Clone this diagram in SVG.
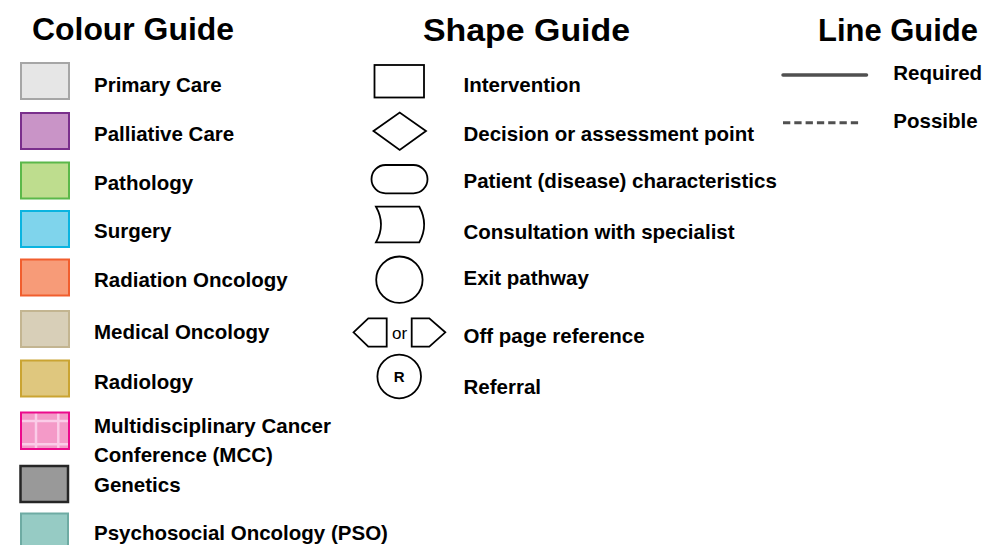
<svg xmlns="http://www.w3.org/2000/svg" width="987" height="545" viewBox="0 0 987 545">
<style>
  text { font-family: "Liberation Sans", Arial, sans-serif; fill: #000; }
  .title { font-size: 32px; font-weight: bold; }
  .lbl { font-size: 20.5px; font-weight: bold; }
  .sw { stroke-width: 2; }
  .shape { fill: #fff; stroke: #000; stroke-width: 1.8; }
</style>
<rect width="987" height="545" fill="#fff"/>

<text class="title" x="32" y="40" textLength="202" lengthAdjust="spacingAndGlyphs">Colour Guide</text>
<text class="title" x="423" y="40.5" textLength="207" lengthAdjust="spacingAndGlyphs">Shape Guide</text>
<text class="title" x="818" y="40.5" textLength="160" lengthAdjust="spacingAndGlyphs">Line Guide</text>

<g id="colour-primary"><rect class="sw" x="21" y="63" width="48" height="36" fill="#e6e6e6" stroke="#a6a6a6"/><text class="lbl" x="94" y="91.7">Primary Care</text></g>
<g id="colour-palliative"><rect class="sw" x="21" y="113" width="48" height="36" fill="#c994c7" stroke="#7a2f8c"/><text class="lbl" x="94" y="140.7">Palliative Care</text></g>
<g id="colour-pathology"><rect class="sw" x="21" y="162.5" width="48" height="36" fill="#bedd8e" stroke="#5bb84a"/><text class="lbl" x="94" y="190">Pathology</text></g>
<g id="colour-surgery"><rect class="sw" x="21" y="211" width="48" height="36" fill="#7fd4ec" stroke="#0ab4e0"/><text class="lbl" x="94" y="238">Surgery</text></g>
<g id="colour-radiation"><rect class="sw" x="21" y="259.5" width="48" height="36" fill="#f79b78" stroke="#f15e2e"/><text class="lbl" x="94" y="286.7">Radiation Oncology</text></g>
<g id="colour-medical"><rect class="sw" x="21" y="311" width="48" height="36" fill="#d8cfb8" stroke="#c3b591"/><text class="lbl" x="94" y="339">Medical Oncology</text></g>
<g id="colour-radiology"><rect class="sw" x="21" y="360.5" width="48" height="36" fill="#dfc77e" stroke="#caa432"/><text class="lbl" x="94" y="389">Radiology</text></g>
<g id="colour-mcc">
  <rect x="21" y="412.5" width="48" height="36.5" fill="#f49ac8"/>
  <g stroke="#fcd2ec" stroke-width="2.5" opacity="0.9">
    <line x1="36" y1="413" x2="36" y2="449"/>
    <line x1="58.3" y1="413" x2="58.3" y2="449"/>
    <line x1="21" y1="421" x2="69" y2="421"/>
    <line x1="21" y1="444.3" x2="69" y2="444.3"/>
  </g>
  <rect class="sw" x="21" y="412.5" width="48" height="36.5" fill="none" stroke="#ec0a8c"/>
  <text class="lbl" x="94" y="432.7">Multidisciplinary Cancer</text>
  <text class="lbl" x="94" y="461.7">Conference (MCC)</text>
</g>
<g id="colour-genetics"><rect x="20.5" y="466" width="47.5" height="36" fill="#999999" stroke="#262626" stroke-width="2.5"/><text class="lbl" x="94" y="491.7">Genetics</text></g>
<g id="colour-pso"><rect class="sw" x="21" y="513.5" width="47" height="40" fill="#96cbc4" stroke="#6eaba3"/><text class="lbl" x="94" y="540">Psychosocial Oncology (PSO)</text></g>

<g id="shape-intervention"><rect class="shape" x="374.5" y="65" width="49.5" height="32.5"/><text class="lbl" x="463.5" y="92.3">Intervention</text></g>
<g id="shape-decision"><polygon class="shape" points="373.5,131 399.7,112.5 426,131 399.7,150"/><text class="lbl" x="463.5" y="141">Decision or assessment point</text></g>
<g id="shape-patient"><rect class="shape" x="371.5" y="165" width="56" height="28.3" rx="14" ry="14"/><text class="lbl" x="463.5" y="187.5">Patient (disease) characteristics</text></g>
<g id="shape-consultation"><path class="shape" d="M376,206.7 L419.3,206.7 Q429,224.5 419.3,242.3 L376,242.3 Q386,224.5 376,206.7 Z"/><text class="lbl" x="463.5" y="239">Consultation with specialist</text></g>
<g id="shape-exit"><circle class="shape" cx="399.4" cy="279.7" r="23.2"/><text class="lbl" x="463.5" y="285">Exit pathway</text></g>
<g id="shape-offpage">
  <polygon class="shape" points="353.5,332.3 368.3,318.3 386.7,318.3 386.7,346.7 368.3,346.7"/>
  <text x="392" y="339.3" style="font-size:17px">or</text>
  <polygon class="shape" points="411.7,318.3 429.3,318.3 445.3,332.3 429.3,346.7 411.7,346.7"/>
  <text class="lbl" x="463.5" y="342.7">Off page reference</text>
</g>
<g id="shape-referral"><circle class="shape" cx="399.2" cy="376.5" r="21.8"/><text x="399.2" y="382" text-anchor="middle" style="font-size:15px;font-weight:bold">R</text><text class="lbl" x="463.5" y="394">Referral</text></g>

<g id="connectors">
  <g id="line-required"><line x1="783" y1="75" x2="866.5" y2="75" stroke="#505050" stroke-width="3.5" stroke-linecap="round"/><text class="lbl" x="893.3" y="80">Required</text></g>
  <g id="line-possible"><line x1="783" y1="122.7" x2="862" y2="122.7" stroke="#505050" stroke-width="3" stroke-dasharray="7.3,4"/><text class="lbl" x="893.3" y="127.7">Possible</text></g>
</g>
</svg>
